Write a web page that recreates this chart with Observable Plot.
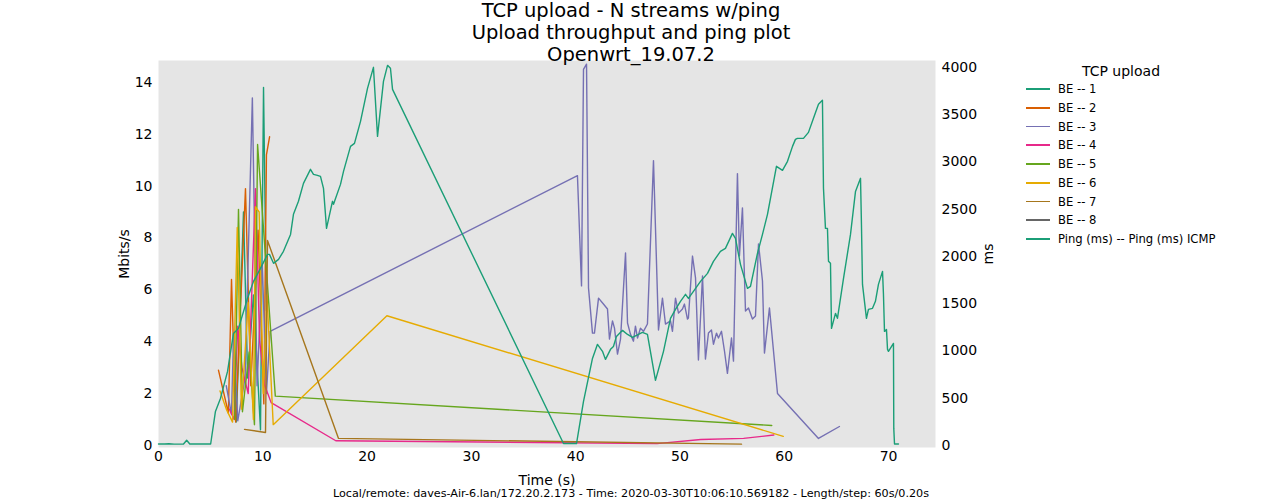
<!DOCTYPE html>
<html>
<head>
<meta charset="utf-8">
<script src="https://cdn.jsdelivr.net/npm/d3@7"></script>
<script src="https://cdn.jsdelivr.net/npm/@observablehq/plot@0.6"></script>
<style>
  html, body { margin: 0; padding: 0; background: #fff; }
  #wrap { position: relative; width: 1262px; height: 503px; font-family: "DejaVu Sans", sans-serif; color: #000; overflow: hidden; }
  #wrap svg { position: absolute; left: 0; top: 0; }
  .ov { position: absolute; white-space: nowrap; }
  .c { transform: translate(-50%, -50%); }
  .rot { transform: translate(-50%, -50%) rotate(-90deg); }
  #title { left: 0; top: 0px; width: 1262px; text-align: center; font-size: 19.5px; line-height: 22px; }
  #legend { left: 1020px; top: 59px; }
  .lg-title { position: absolute; left: 101px; top: 12px; transform: translate(-50%, -50%); font-size: 14px; white-space: nowrap; }
  .lg-item { position: absolute; left: 6px; height: 14px; font-size: 11.6px; white-space: nowrap; display: flex; align-items: center; }
  .lg-item span.sw { display: inline-block; width: 24px; height: 1.6px; margin-right: 8px; }
</style>
</head>
<body>
<div id="wrap">
  <div id="title" class="ov">TCP upload - N streams w/ping<br>Upload throughput and ping plot<br>Openwrt_19.07.2</div>
  <div class="ov rot" style="left:124px; top:254px; font-size:14px;">Mbits/s</div>
  <div class="ov rot" style="left:988px; top:254px; font-size:14px;">ms</div>
  <div class="ov c" style="left:547px; top:480px; font-size:14px;">Time (s)</div>
  <div class="ov c" style="left:631px; top:493px; font-size:11.2px;">Local/remote: daves-Air-6.lan/172.20.2.173 - Time: 2020-03-30T10:06:10.569182 - Length/step: 60s/0.20s</div>
  <div id="legend" class="ov"></div>
</div>
<script>
// ---- data ----
const seriesNames = ["BE -- 1", "BE -- 2", "BE -- 3", "BE -- 4", "BE -- 5", "BE -- 6", "BE -- 7", "BE -- 8", "Ping (ms) -- Ping (ms) ICMP"];
const seriesColors = ["#1b9e77", "#d95f02", "#7570b3", "#e7298a", "#66a61e", "#e6ab02", "#a6761d", "#666666", "#1b9e77"];
const legendTitle = "TCP upload";

const xTicks = [0, 10, 20, 30, 40, 50, 60, 70];
const mbitTicks = [0, 2, 4, 6, 8, 10, 12, 14];
const msTicks = [0, 500, 1000, 1500, 2000, 2500, 3000, 3500, 4000];

// [time (s), Mbits/s]
const be1 = [[7.45,0.9],[7.75,4.2],[8.15,9.0],[8.55,2.6],[9.1,5.8],[9.78,0.6],[10.07,13.8],[10.35,5.2]];
const be2 = [[5.75,2.9],[6.7,1.25],[7.0,6.4],[7.4,0.9],[8.34,9.9],[8.85,2.3],[9.55,8.3],[10.1,1.6],[10.35,11.2],[10.65,11.9]];
const be3 = [[6.5,2.3],[7.0,1.2],[7.2,4.3],[7.6,0.95],[8.3,2.6],[9.0,13.4],[9.45,2.3],[9.95,7.0],[10.35,2.0],[10.7,4.4],
  [40.17,10.4],[40.56,6.15],[40.75,14.5],[41.04,14.7],[41.23,6.07],[41.61,4.33],[41.80,4.33],[42.19,5.68],[42.66,5.45],[43.05,5.26],
  [43.24,4.1],[43.53,4.8],[43.72,4.52],[44.01,3.52],[44.30,4.1],[44.78,7.42],[44.97,4.72],[45.25,4.29],[45.54,4.02],[45.73,4.6],
  [45.93,4.14],[46.21,4.52],[46.50,4.4],[46.88,4.68],[47.46,10.98],[47.94,4.45],[48.32,5.68],[48.61,4.68],[49.09,4.8],[49.28,4.4],
  [49.57,5.68],[49.86,5.1],[50.24,5.26],[50.43,5.45],[50.72,4.87],[50.81,4.91],[51.20,7.3],[51.49,6.46],[51.77,3.29],[52.16,6.53],
  [52.44,3.33],[52.73,4.33],[53.02,4.45],[53.21,3.9],[53.50,4.33],[53.69,4.14],[53.98,4.4],[54.27,3.63],[54.55,2.78],[54.94,4.14],
  [55.13,3.25],[55.51,10.48],[55.70,7.3],[55.99,9.16],[56.28,5.18],[56.57,5.3],[56.95,4.87],[57.24,4.99],[57.53,7.77],[57.91,6.34],
  [58.10,3.56],[58.58,5.3],[59.35,2.0],[63.28,0.27],[65.29,0.73]];
const be4 = [[6.8,1.4],[7.25,1.0],[7.6,4.6],[8.0,3.0],[8.6,2.0],[9.3,9.9],[9.7,4.0],[10.2,2.3],[10.8,1.65],[17.0,0.18],[47.8,0.07],[52.0,0.23],[56.1,0.27],[59.0,0.4]];
const be5 = [[7.3,1.0],[7.67,9.1],[8.05,1.3],[8.7,3.6],[9.2,0.8],[9.5,11.6],[11.2,1.9],[58.8,0.77]];
const be6 = [[5.9,2.1],[6.5,1.4],[7.1,0.9],[7.55,8.4],[7.95,1.4],[8.6,5.5],[9.1,1.0],[9.3,9.2],[9.65,9.0],[10.05,2.0],[10.4,5.8],[11.0,0.8],[21.9,5.0],[59.9,0.35]];
const be7 = [[8.25,0.62],[10.26,0.5],[10.45,7.9],[17.26,0.27],[55.9,0.05]];
const be8 = [];
// [time (s), ping ms]
const ping = [[0,15],[0.6,15],[1.0,18],[1.5,14],[2.4,15],[2.7,55],[3.0,15],[4.0,15],[5.0,15],
  [5.46,360],[5.94,497],[6.62,783],[7.19,1185],[7.67,1238],[8.53,1555],[9.11,1735],[9.78,1873],[10.45,2021],[10.64,2021],
  [11.03,1926],[11.51,1968],[11.98,2053],[12.66,2232],[12.94,2444],[13.42,2582],[13.90,2772],[14.57,2920],[14.86,2867],[15.24,2857],
  [15.53,2846],[15.82,2719],[16.11,2296],[16.68,2582],[16.78,2550],[17.45,2761],[17.74,2899],[18.41,3163],[18.79,3195],[19.37,3428],
  [20.04,3777],[20.61,3999],[21.0,3269],[21.57,3851],[21.96,4020],[22.24,3989],[22.44,3766],
  [38.83,20],[40.08,20],[40.75,466],[41.61,920],[42.09,1069],[42.57,995],[42.86,910],[43.34,1016],[43.62,1047],[43.91,1153],
  [44.49,1217],[44.97,1174],[45.45,1143],[46.02,1174],[46.40,1196],[46.88,1174],[47.65,688],[48.42,995],[49.09,1344],[49.57,1439],
  [50.05,1524],[50.53,1598],[50.81,1555],[51.29,1629],[51.97,1735],[52.64,1820],[53.21,1947],[53.88,2053],[54.36,2084],[55.03,2243],
  [55.32,2190],[55.80,1915],[56.47,1661],[56.76,1682],[57.43,2031],[57.91,2232],[58.39,2444],[59.25,2952],[59.83,2910],[60.31,3005],
  [60.79,3163],[61.07,3237],[61.26,3248],[61.84,3248],[62.32,3311],[62.80,3460],[63.28,3608],[63.66,3650],[63.76,2719],[63.95,2296],
  [64.14,2296],[64.24,1947],[64.43,1926],[64.53,1238],[64.91,1397],[65.10,1344],[65.68,1767],[66.35,2232],[66.83,2687],[67.31,2825],
  [67.40,2338],[67.50,1703],[67.88,1344],[68.07,1439],[68.46,1450],[68.74,1524],[69.03,1703],[69.42,1841],[69.51,1598],[69.61,1206],
  [69.80,1227],[69.90,1016],[69.99,995],[70.47,1079],[70.50,180],[70.57,15],[70.95,15]];

// ---- build ----
const msToMbitAxis = 14.58 / 4000; // maps the right (ms) axis onto the left axis units
const beSeries = [be1, be2, be3, be4, be5, be6, be7, be8];
const rows = [];
beSeries.forEach((pts, i) => pts.forEach(([t, v]) => rows.push({series: seriesNames[i], t, y: v})));
ping.forEach(([t, ms]) => rows.push({series: seriesNames[8] + " ", t, y: ms * msToMbitAxis}));

const colorDomain = [...seriesNames.slice(0, 8), seriesNames[8] + " "];

const chart = Plot.plot({
  width: 1262,
  height: 503,
  marginLeft: 158,
  marginRight: 327,
  marginTop: 60,
  marginBottom: 56,
  style: {fontFamily: "DejaVu Sans, sans-serif", fontSize: "14px", background: "transparent", color: "#000", overflow: "visible"},
  x: {domain: [0, 74.5]},
  y: {domain: [-0.08, 14.84]},
  color: {domain: colorDomain, range: seriesColors},
  marks: [
    Plot.frame({fill: "#e5e5e5", stroke: null}),
    Plot.line(rows, {x: "t", y: "y", z: "series", stroke: "series", strokeWidth: 1.4, curve: "linear"}),
    Plot.axisX({ticks: xTicks, tickSize: 0, tickPadding: 4, label: null, tickFormat: d => String(d)}),
    Plot.axisY({anchor: "left", ticks: mbitTicks, tickSize: 0, tickPadding: 6, label: null, tickFormat: d => String(d)}),
    Plot.axisY({anchor: "right", ticks: msTicks.map(v => v * msToMbitAxis), tickSize: 0, tickPadding: 6, label: null,
      tickFormat: d => String(Math.round(d / msToMbitAxis))})
  ]
});
document.getElementById("wrap").prepend(chart);

// legend
const legend = document.getElementById("legend");
const lt = document.createElement("div");
lt.className = "lg-title";
lt.textContent = legendTitle;
legend.appendChild(lt);
seriesNames.forEach((name, i) => {
  const it = document.createElement("div");
  it.className = "lg-item";
  it.style.top = (23 + i * 18.75) + "px";
  const sw = document.createElement("span");
  sw.className = "sw";
  sw.style.background = seriesColors[i];
  it.appendChild(sw);
  it.appendChild(document.createTextNode(name));
  legend.appendChild(it);
});
</script>
</body>
</html>
